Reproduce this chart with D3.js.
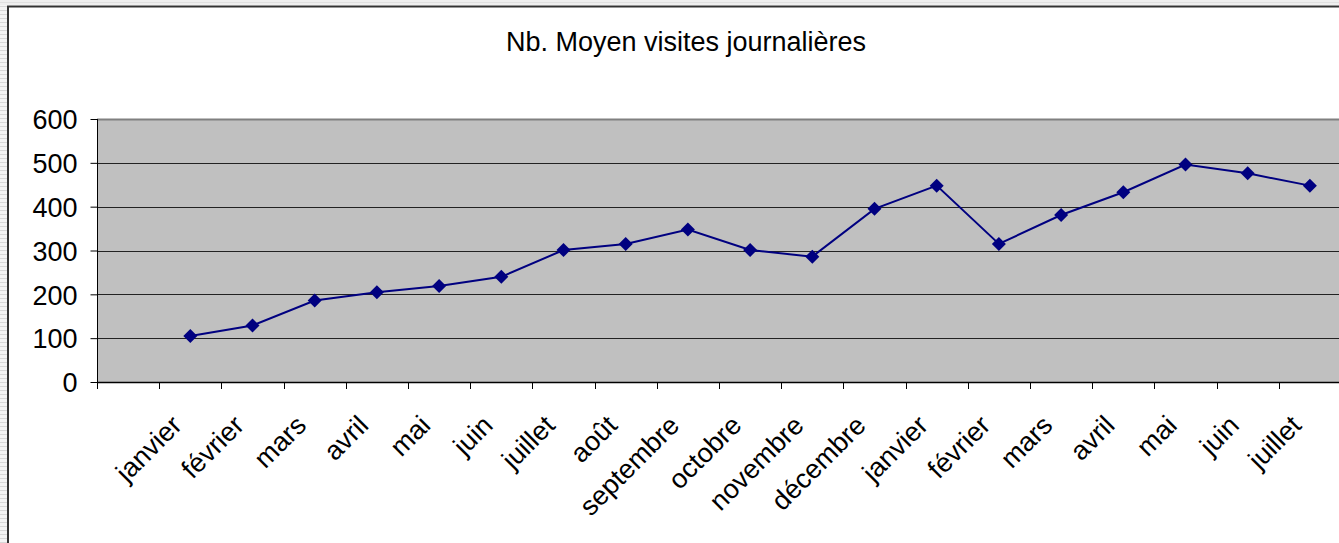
<!DOCTYPE html>
<html>
<head>
<meta charset="utf-8">
<script src="https://cdn.jsdelivr.net/npm/d3@7"></script>
<style>
  html, body { margin: 0; padding: 0; background: #fff; overflow: hidden; }
  svg { display: block; }
  text { font-family: "Liberation Sans", Arial, sans-serif; fill: #000; }
</style>
</head>
<body>
<script>
const title = "Nb. Moyen visites journalières";
// first slot is an empty category in the source sheet
const categories = ["", "janvier", "février", "mars", "avril", "mai", "juin", "juillet", "août",
  "septembre", "octobre", "novembre", "décembre", "janvier", "février", "mars", "avril",
  "mai", "juin", "juillet"];
const visits = [null, 105, 129, 186, 205, 219, 240, 301, 315, 348, 301, 286, 395, 448, 315,
  381, 433, 496, 476, 448];
const yTicks = [0, 100, 200, 300, 400, 500, 600];

(function () {
const W = 1339, H = 543;
const FS = 27;
const svg = d3.select("body").append("svg").attr("width", W).attr("height", H);

// page background: striped margin left and top
const defs = svg.append("defs");
const pat = defs.append("pattern").attr("id", "stripes").attr("width", 8).attr("height", 4)
  .attr("patternUnits", "userSpaceOnUse");
pat.append("rect").attr("width", 8).attr("height", 4).attr("fill", "#f4f4f4");
pat.append("rect").attr("y", 2).attr("width", 8).attr("height", 1).attr("fill", "#d8d8d8");
svg.append("rect").attr("x", 0).attr("y", 0).attr("width", 7).attr("height", H).attr("fill", "url(#stripes)");
svg.append("rect").attr("x", 0).attr("y", 0).attr("width", W).attr("height", 5).attr("fill", "#efefef");
svg.append("rect").attr("x", 0).attr("y", 2).attr("width", W).attr("height", 1).attr("fill", "#e0e0e0");

// chart frame
svg.append("rect").attr("x", 8).attr("y", 6.5).attr("width", W + 20).attr("height", H + 20)
  .attr("fill", "#fff").attr("stroke", "#333").attr("stroke-width", 2);

svg.append("text").attr("x", 686).attr("y", 51).attr("text-anchor", "middle")
  .style("font-size", FS + "px").text(title);

const pLeft = 97, pTop = 119, pBottom = 382;
const bandW = 62.2;
const pRight = pLeft + bandW * categories.length;

const x = d3.scaleBand().domain(d3.range(categories.length)).range([pLeft, pRight]);
const y = d3.scaleLinear().domain([0, 600]).range([pBottom, pTop]);

// plot area
svg.append("rect").attr("x", pLeft).attr("y", pTop).attr("width", pRight - pLeft).attr("height", pBottom - pTop)
  .attr("fill", "#c0c0c0");

// gridlines
svg.append("g").selectAll("line").data(yTicks.filter(d => d > 0 && d < 600)).join("line")
  .attr("x1", pLeft).attr("x2", pRight)
  .attr("y1", d => Math.round(y(d)) + 0.5).attr("y2", d => Math.round(y(d)) + 0.5)
  .attr("stroke", "#222").attr("stroke-width", 1);
// top border
svg.append("line").attr("x1", pLeft).attr("x2", pRight).attr("y1", pTop + 0.5).attr("y2", pTop + 0.5)
  .attr("stroke", "#808080").attr("stroke-width", 2);

// y axis
const yAxis = svg.append("g").attr("transform", `translate(${pLeft + 0.5},0)`)
  .call(d3.axisLeft(y).tickValues(yTicks).tickSize(7).tickPadding(13));
yAxis.select(".domain").attr("stroke", "#000").attr("d", `M0,${pTop}V${pBottom + 7}`);
yAxis.selectAll(".tick line").attr("stroke", "#000");
yAxis.selectAll(".tick text").style("font-size", FS + "px").attr("dy", "0.36em");

// x axis: ticks at band boundaries
const xAxisG = svg.append("g");
xAxisG.append("line").attr("x1", pLeft).attr("x2", pRight).attr("y1", pBottom + 0.5).attr("y2", pBottom + 0.5)
  .attr("stroke", "#000").attr("stroke-width", 1.5);
xAxisG.selectAll("line.tk").data(d3.range(1, categories.length + 1)).join("line").attr("class", "tk")
  .attr("x1", i => Math.round(pLeft + i * x.step()) + 0.5).attr("x2", i => Math.round(pLeft + i * x.step()) + 0.5)
  .attr("y1", pBottom).attr("y2", pBottom + 7).attr("stroke", "#000");
xAxisG.selectAll("text").data(categories.map((c, i) => ({c, i})).filter(d => d.c !== "")).join("text")
  .attr("transform", d => `translate(${x(d.i) + x.bandwidth() / 2 - 7},${pBottom + 45}) rotate(-45)`)
  .attr("text-anchor", "end")
  .style("font-size", FS + "px").text(d => d.c);

// line
const pts = visits.map((v, i) => ({v, i})).filter(d => d.v != null);
const line = d3.line().x(d => x(d.i) + x.bandwidth() / 2).y(d => y(d.v));
svg.append("path").datum(pts).attr("d", line).attr("fill", "none")
  .attr("stroke", "#000080").attr("stroke-width", 2);

svg.append("g").selectAll("path").data(pts).join("path")
  .attr("transform", d => `translate(${x(d.i) + x.bandwidth() / 2},${y(d.v)})`)
  .attr("d", "M0,-7L7,0L0,7L-7,0Z").attr("fill", "#000080");
})();
</script>
</body>
</html>
